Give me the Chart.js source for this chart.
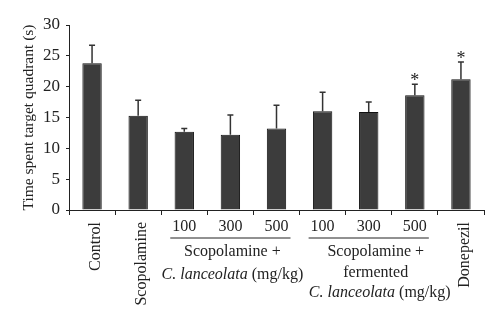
<!DOCTYPE html>
<html>
<head>
<meta charset="utf-8">
<script src="https://cdn.jsdelivr.net/npm/chart.js@4"></script>
<style>
  html, body { margin: 0; padding: 0; background: #fff; }
  #wrap { width: 500px; height: 323px; }
</style>
</head>
<body>
<div id="wrap"><canvas id="chart" width="500" height="323"></canvas></div>
<script>
// groups on the x axis
const categories = ["Control", "Scopolamine", "100", "300", "500", "100", "300", "500", "Donepezil"];
// mean time in target quadrant (s)
const means = [23.8, 15.3, 12.7, 12.2, 13.2, 16.0, 15.9, 18.6, 21.2];
// upper error (SD) top values
const errTops = [26.7, 17.8, 13.2, 15.4, 17.0, 19.1, 17.5, 20.4, 24.0];
const starred = [false, false, false, false, false, false, false, true, true];
const yTicks = [0, 5, 10, 15, 20, 25, 30];

const FONT = "'Liberation Serif', 'DejaVu Serif', serif";
const TXT = "#222";

const labelsPlugin = {
  id: "labelsPlugin",
  afterDatasetsDraw(chart) {
    const ctx = chart.ctx;
    const x = chart.scales.x;
    const y = chart.scales.y;
    const bars = chart.getDatasetMeta(0).data;
    ctx.save();

    // error bars (upper only)
    ctx.strokeStyle = "#333";
    ctx.lineWidth = 1.5;
    bars.forEach((b, i) => {
      const yt = y.getPixelForValue(errTops[i]);
      ctx.beginPath();
      ctx.moveTo(b.x, b.y);
      ctx.lineTo(b.x, yt);
      ctx.moveTo(b.x - 3, yt);
      ctx.lineTo(b.x + 3, yt);
      ctx.stroke();
      if (starred[i]) {
        ctx.fillStyle = TXT;
        ctx.font = "18px " + FONT;
        ctx.textAlign = "center";
        ctx.textBaseline = "alphabetic";
        ctx.fillText("*", b.x, yt + 2);
      }
    });

    const base = y.bottom;
    ctx.fillStyle = TXT;
    ctx.font = "16px " + FONT;

    // rotated single labels
    [0, 1, 8].forEach(i => {
      ctx.save();
      ctx.translate(x.getPixelForValue(i) + 4, base + 12);
      ctx.rotate(-Math.PI / 2);
      ctx.textAlign = "right";
      ctx.textBaseline = "middle";
      ctx.fillText(categories[i], 0, 0);
      ctx.restore();
    });

    // dose labels
    ctx.textAlign = "center";
    ctx.textBaseline = "middle";
    [2, 3, 4, 5, 6, 7].forEach(i => {
      ctx.fillText(categories[i], x.getPixelForValue(i), base + 17);
    });

    // group underlines
    ctx.strokeStyle = TXT;
    ctx.lineWidth = 1;
    const line = (a, b) => {
      ctx.beginPath();
      ctx.moveTo(x.getPixelForValue(a) - 14, base + 28);
      ctx.lineTo(x.getPixelForValue(b) + 14, base + 28);
      ctx.stroke();
    };
    line(2, 4);
    line(5, 7);

    const c1 = x.getPixelForValue(3) + 2;
    const c2 = x.getPixelForValue(6) + 7;
    const italicLine = (cx, yy) => {
      const it = "C. lanceolata";
      const rest = " (mg/kg)";
      ctx.font = "italic 16px " + FONT;
      const w1 = ctx.measureText(it).width;
      ctx.font = "16px " + FONT;
      const w2 = ctx.measureText(rest).width;
      const start = cx - (w1 + w2) / 2;
      ctx.textAlign = "left";
      ctx.font = "italic 16px " + FONT;
      ctx.fillText(it, start, yy);
      ctx.font = "16px " + FONT;
      ctx.fillText(rest, start + w1, yy);
      ctx.textAlign = "center";
    };
    ctx.fillText("Scopolamine +", c1, base + 42);
    italicLine(c1, base + 65);
    ctx.fillText("Scopolamine +", c2, base + 42);
    ctx.fillText("fermented", c2, base + 63);
    italicLine(c2 + 4, base + 83);

    ctx.restore();
  }
};

new Chart(document.getElementById("chart").getContext("2d"), {
  type: "bar",
  data: {
    labels: categories,
    datasets: [{
      data: means,
      backgroundColor: "#3c3c3c",
      borderColor: "#111",
      borderWidth: 1,
      barPercentage: 0.42,
      categoryPercentage: 1
    }]
  },
  options: {
    responsive: false,
    animation: false,
    layout: { padding: { top: 25, right: 16, left: 0, bottom: 0 } },
    plugins: { legend: { display: false }, tooltip: { enabled: false } },
    scales: {
      x: {
        offset: true,
        grid: { display: true, drawOnChartArea: false, offset: true, tickLength: 5, color: "#222" },
        border: { color: "#222", width: 1 },
        ticks: { display: false },
        afterFit: s => { s.height = 113; }
      },
      y: {
        min: 0,
        max: 30,
        afterBuildTicks: s => { s.ticks = yTicks.map(v => ({ value: v })); },
        grid: { display: true, drawOnChartArea: false, tickLength: 3, color: "#222" },
        border: { color: "#222", width: 1 },
        ticks: { font: { family: FONT, size: 17 }, color: TXT, padding: 6 },
        title: {
          display: true,
          text: "Time spent target quadrant (s)",
          font: { family: FONT, size: 15.5 },
          color: TXT,
          padding: { top: 20, bottom: 4 }
        },
        afterFit: s => { s.width = 69; }
      }
    }
  },
  plugins: [labelsPlugin]
});
</script>
</body>
</html>
